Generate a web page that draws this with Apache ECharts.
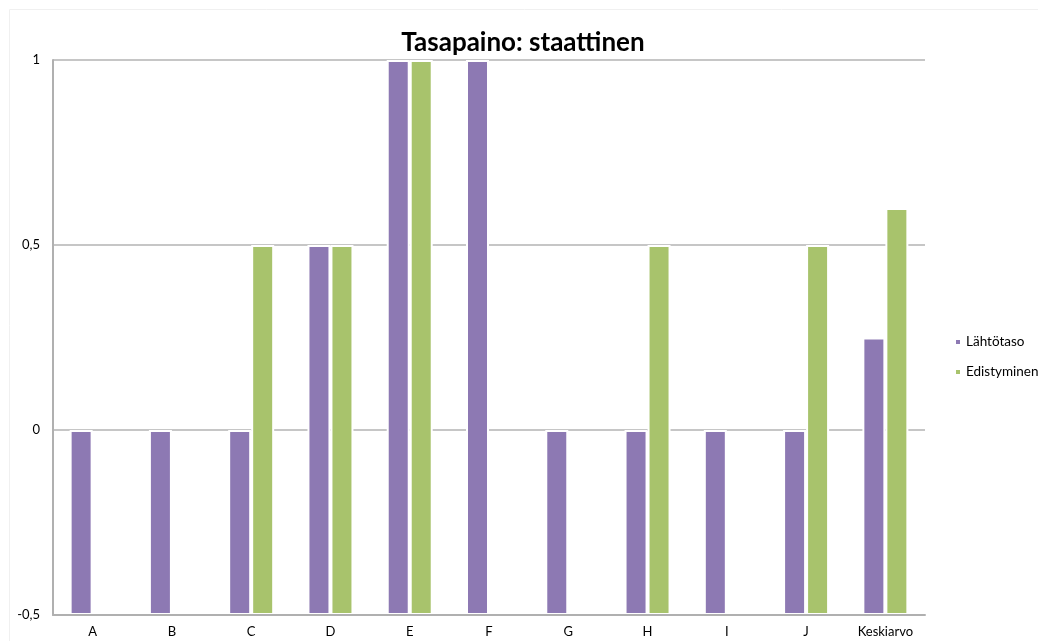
<!DOCTYPE html>
<html>
<head>
<meta charset="utf-8">
<script src="https://cdn.jsdelivr.net/npm/echarts@6/dist/echarts.min.js"></script>
<style>html,body{margin:0;padding:0;background:#fff}#c{width:1038px;height:641px}</style>
</head>
<body>
<div id="c"></div>
<script>
var categories = ['A','B','C','D','E','F','G','H','I','J','Keskiarvo'];
var lahtotaso = [0, 0, 0, 0.5, 1, 1, 0, 0, 0, 0, 0.25];
var edistyminen = [null, null, 0.5, 0.5, 1, null, null, 0.5, null, 0.5, 0.6];
var seriesNames = ['Lähtötaso', 'Edistyminen'];
var axisMin = -0.5, axisMax = 1, axisStep = 0.5;

// bars grow from the axis minimum (-0.5), as in the original spreadsheet chart
function shift(arr){ return arr.map(function(v){ return v == null ? null : v - axisMin; }); }

var chart = echarts.init(document.getElementById('c'));
var font = 'Lato, "Open Sans", sans-serif';
chart.setOption({
  animation: false,
  title: {
    text: 'Tasapaino: staattinen',
    left: 518, top: 25, textAlign: 'center',
    textStyle: { fontFamily: font, fontWeight: 'bold', fontSize: 26, color: '#000' }
  },
  graphic: [{
    type: 'rect', shape: { x: 9.5, y: 9.5, width: 1040, height: 640 },
    style: { fill: 'none', stroke: '#f0f0f0', lineWidth: 1 }, silent: true
  }],
  legend: {
    orient: 'vertical', left: 949, top: 330,
    icon: 'rect', itemWidth: 6, itemHeight: 6, itemGap: 16,
    textStyle: { fontFamily: font, fontSize: 13.5, color: '#000' },
    data: seriesNames
  },
  grid: { left: 53, right: 113, top: 60, bottom: 26, containLabel: false },
  xAxis: {
    type: 'category', data: categories, z: 5,
    axisLine: { lineStyle: { color: '#b0b0b0', width: 2 } },
    axisTick: { show: false },
    axisLabel: { fontFamily: font, fontSize: 13, color: '#000', margin: 10 }
  },
  yAxis: {
    type: 'value', min: 0, max: axisMax - axisMin, interval: axisStep,
    axisLine: { show: true, lineStyle: { color: '#b0b0b0', width: 2 } },
    axisTick: { show: false },
    splitLine: { lineStyle: { color: '#b3b3b3', width: 1.5 } },
    axisLabel: {
      fontFamily: font, fontSize: 13, color: '#000', margin: 13,
      formatter: function(v){ var r = Math.round((v + axisMin) * 100) / 100; return String(r).replace('.', ','); }
    }
  },
  series: [
    { name: seriesNames[0], type: 'bar', data: shift(lahtotaso), barWidth: 23, barGap: '0%',
      itemStyle: { color: '#8d79b3', borderColor: '#fff', borderWidth: 2 } },
    { name: seriesNames[1], type: 'bar', data: shift(edistyminen), barWidth: 23,
      itemStyle: { color: '#a8c36c', borderColor: '#fff', borderWidth: 2 } }
  ]
});
</script>
</body>
</html>
